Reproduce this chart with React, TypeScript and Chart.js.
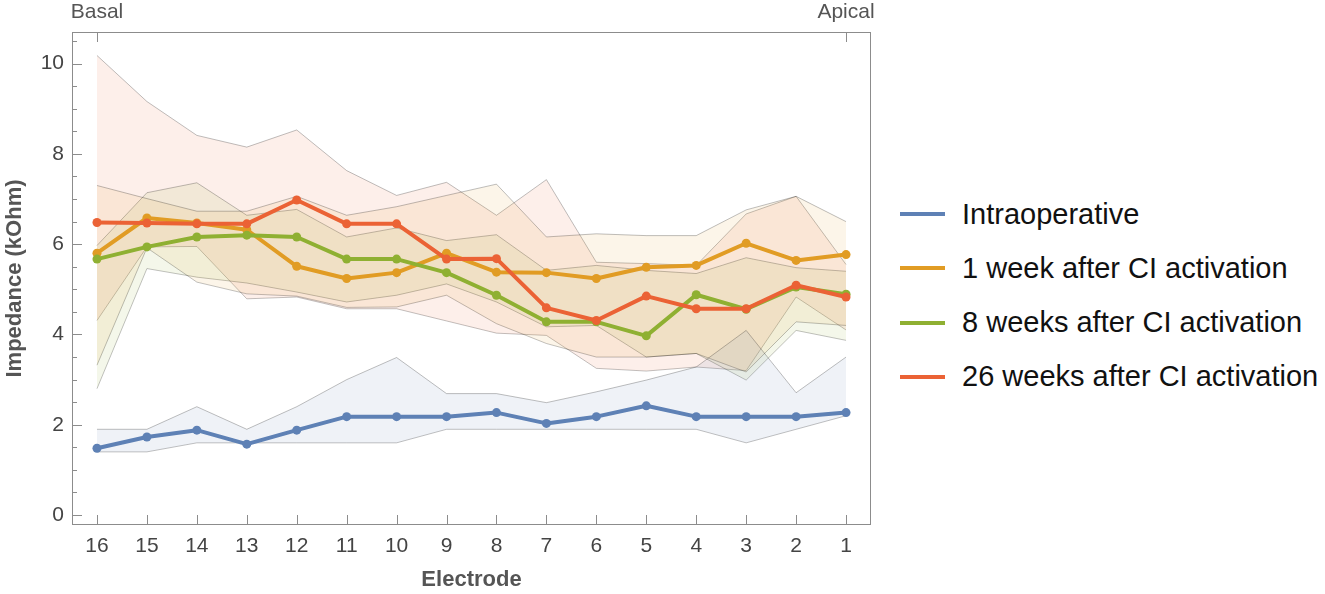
import { useEffect, useRef } from "react";
import { Chart, registerables, type Plugin } from "chart.js";

Chart.register(...registerables);

// electrodes, basal (16) to apical (1)
const electrodes = ["16", "15", "14", "13", "12", "11", "10", "9", "8", "7", "6", "5", "4", "3", "2", "1"];

const intraop = [1.48, 1.73, 1.88, 1.57, 1.88, 2.18, 2.18, 2.18, 2.27, 2.03, 2.18, 2.42, 2.18, 2.18, 2.18, 2.27];
const intraopHi = [1.9, 1.9, 2.4, 1.9, 2.4, 3.0, 3.49, 2.69, 2.69, 2.49, 2.73, 2.99, 3.28, 4.09, 2.71, 3.5];
const intraopLo = [1.4, 1.4, 1.6, 1.6, 1.6, 1.6, 1.6, 1.9, 1.9, 1.9, 1.9, 1.9, 1.9, 1.6, 1.9, 2.2];

const week1 = [5.8, 6.58, 6.47, 6.32, 5.51, 5.24, 5.37, 5.8, 5.38, 5.37, 5.24, 5.49, 5.53, 6.02, 5.64, 5.77];
const week1Hi = [7.3, 7.01, 6.73, 6.73, 7.06, 6.64, 6.83, 7.08, 7.33, 6.16, 6.23, 6.19, 6.19, 6.76, 7.06, 6.5];
const week1Lo = [3.32, 5.92, 5.16, 4.9, 4.85, 4.6, 4.61, 4.87, 4.24, 3.8, 3.5, 3.5, 3.58, 3.17, 4.28, 4.2];

const week8 = [5.67, 5.94, 6.16, 6.2, 6.16, 5.67, 5.67, 5.37, 4.87, 4.28, 4.28, 3.97, 4.88, 4.56, 5.05, 4.89];
const week8Hi = [5.97, 7.14, 7.36, 6.64, 6.77, 6.16, 6.36, 6.08, 6.21, 5.42, 5.53, 5.42, 5.35, 5.7, 5.48, 5.4];
const week8Lo = [2.8, 5.46, 5.27, 5.14, 4.94, 4.72, 4.87, 5.12, 4.72, 4.17, 4.2, 3.5, 3.58, 2.99, 4.09, 3.87];

const week26 = [6.48, 6.47, 6.45, 6.45, 6.98, 6.45, 6.45, 5.67, 5.68, 4.59, 4.31, 4.85, 4.57, 4.57, 5.09, 4.83];
const week26Hi = [10.18, 9.16, 8.41, 8.15, 8.53, 7.63, 7.08, 7.37, 6.64, 7.43, 5.6, 5.57, 5.53, 6.67, 7.06, 5.55];
const week26Lo = [4.31, 5.94, 5.95, 4.79, 4.83, 4.57, 4.57, 4.3, 4.03, 3.98, 3.25, 3.19, 3.28, 3.2, 4.83, 4.1];

const yMajor = [0, 2, 4, 6, 8, 10];

const series = [
  { label: "Intraoperative", color: "#5e81b5", rgb: "94,129,181", mid: intraop, hi: intraopHi, lo: intraopLo },
  { label: "1 week after CI activation", color: "#e19c24", rgb: "225,156,36", mid: week1, hi: week1Hi, lo: week1Lo },
  { label: "8 weeks after CI activation", color: "#8fb032", rgb: "143,176,50", mid: week8, hi: week8Hi, lo: week8Lo },
  { label: "26 weeks after CI activation", color: "#eb6235", rgb: "235,98,53", mid: week26, hi: week26Hi, lo: week26Lo },
];

const FONT = "'Liberation Sans', Arial, sans-serif";

const framePlugin: Plugin<"line"> = {
  id: "frame",
  afterDraw(chart) {
    const { ctx, chartArea: a } = chart;
    const x = chart.scales.x;
    const y = chart.scales.y;
    ctx.save();
    ctx.strokeStyle = "#8c8c8c";
    ctx.lineWidth = 1;
    ctx.strokeRect(a.left + 0.5, a.top + 0.5, a.width - 1, a.height - 1);
    ctx.beginPath();
    for (let v = 0; v <= 10.5; v += 0.5) {
      const py = Math.round(y.getPixelForValue(v)) + 0.5;
      const len = v % 2 === 0 ? 10 : 5;
      ctx.moveTo(a.left, py);
      ctx.lineTo(a.left + len, py);
    }
    electrodes.forEach((_, i) => {
      const px = Math.round(x.getPixelForValue(i)) + 0.5;
      ctx.moveTo(px, a.bottom);
      ctx.lineTo(px, a.bottom - 10);
    });
    [0, electrodes.length - 1].forEach((i) => {
      const px = Math.round(x.getPixelForValue(i)) + 0.5;
      ctx.moveTo(px, a.top);
      ctx.lineTo(px, a.top + 10);
    });
    ctx.stroke();

    ctx.fillStyle = "#555";
    ctx.textAlign = "center";
    ctx.textBaseline = "middle";
    ctx.font = `21px ${FONT}`;
    ctx.fillText("Basal", x.getPixelForValue(0), 12);
    ctx.fillText("Apical", x.getPixelForValue(electrodes.length - 1), 12);

    ctx.font = `bold 22px ${FONT}`;
    ctx.fillText("Electrode", (a.left + a.right) / 2, 580);
    ctx.translate(15, (a.top + a.bottom) / 2);
    ctx.rotate(-Math.PI / 2);
    ctx.fillText("Impedance (kOhm)", 0, 0);
    ctx.restore();
  },
};

function ImpedanceChart() {
  const canvasRef = useRef<HTMLCanvasElement>(null);

  useEffect(() => {
    if (!canvasRef.current) return;

    const bands = series.flatMap((s) => [
      {
        label: s.label + " upper",
        data: s.hi,
        borderColor: "rgba(0,0,0,0.25)",
        borderWidth: 1,
        pointRadius: 0,
        backgroundColor: `rgba(${s.rgb},0.1)`,
        fill: "+1",
        order: 10,
      },
      {
        label: s.label + " lower",
        data: s.lo,
        borderColor: "rgba(0,0,0,0.25)",
        borderWidth: 1,
        pointRadius: 0,
        fill: false,
        order: 10,
      },
    ]);

    const lines = series.map((s, i) => ({
      label: s.label,
      data: s.mid,
      borderColor: s.color,
      backgroundColor: s.color,
      borderWidth: 4,
      pointRadius: 4.5,
      pointBorderWidth: 0,
      pointBackgroundColor: s.color,
      borderJoinStyle: "round" as const,
      fill: false,
      order: 4 - i,
    }));

    const chart = new Chart(canvasRef.current, {
      type: "line",
      data: { labels: electrodes, datasets: [...bands, ...lines] },
      options: {
        responsive: false,
        animation: false,
        devicePixelRatio: 1,
        layout: { padding: { top: 32, right: 9, left: 0, bottom: 0 } },
        plugins: { legend: { display: false }, tooltip: { enabled: false } },
        scales: {
          x: {
            type: "category",
            offset: true,
            grid: { display: false, drawTicks: false },
            border: { display: false },
            ticks: { color: "#444", font: { size: 21, family: FONT }, padding: 9, maxRotation: 0, autoSkip: false },
            afterFit: (scale) => {
              scale.height = 69;
            },
          },
          y: {
            min: -0.22,
            max: 10.7,
            grid: { display: false, drawTicks: false },
            border: { display: false },
            afterBuildTicks: (scale) => {
              scale.ticks = yMajor.map((v) => ({ value: v }));
            },
            ticks: { color: "#444", font: { size: 21, family: FONT }, padding: 8 },
            afterFit: (scale) => {
              scale.width = 72;
            },
          },
        },
      },
      plugins: [framePlugin],
    });

    return () => {
      chart.destroy();
    };
  }, []);

  return <canvas ref={canvasRef} width={880} height={594} style={{ width: 880, height: 594 }} />;
}

export default function App() {
  return (
    <div style={{ position: "absolute", left: 0, top: 0, width: 1325, height: 594, background: "#fff" }}>
      <ImpedanceChart />
      <div style={{ position: "absolute", left: 900, top: 0 }}>
        {series.map((s, i) => (
          <div
            key={s.label}
            style={{
              position: "absolute",
              top: 214 + i * 54.3 - 18,
              left: 0,
              height: 36,
              display: "flex",
              alignItems: "center",
              whiteSpace: "nowrap",
            }}
          >
            <span style={{ display: "inline-block", width: 45, height: 4, background: s.color, marginRight: 17 }} />
            <span style={{ font: `29px ${FONT}`, color: "#111" }}>{s.label}</span>
          </div>
        ))}
      </div>
    </div>
  );
}
